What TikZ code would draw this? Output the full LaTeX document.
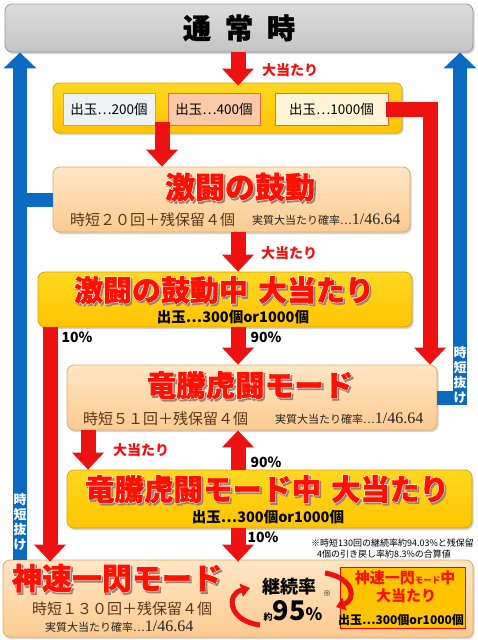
\documentclass[tikz,border=0pt]{standalone}
\usepackage{fontspec}
\setmainfont{Noto Sans CJK JP}
\newfontfamily\lserif{Liberation Serif}
\usetikzlibrary{arrows.meta,shadows}
\definecolor{arrred}{HTML}{EE1111}
\definecolor{titred}{HTML}{FF1100}
\definecolor{bluea}{HTML}{0B6BC2}
\definecolor{brownt}{HTML}{5C3518}
\definecolor{peachT}{HTML}{FFE6C4}
\definecolor{peachB}{HTML}{FCCB90}
\definecolor{peachD}{HTML}{E3A868}
\definecolor{yelT}{HTML}{FFD820}
\definecolor{yelB}{HTML}{FFC400}
\definecolor{yelD}{HTML}{D9A400}
\definecolor{grayT}{HTML}{DCDCDC}
\definecolor{grayB}{HTML}{C4C4C4}
\definecolor{o2f}{HTML}{EEF2F3}
\definecolor{o4f}{HTML}{F9C9A8}
\definecolor{o10f}{HTML}{FFF4D6}
\definecolor{obd}{HTML}{E86A4A}
\definecolor{shad}{HTML}{A08070}
\newcommand\fs[1]{\fontsize{#1}{#1}\selectfont}
\newcommand\glowtext[4]{%
  \node[font=#3, inner sep=0pt] (#1) at (#2) {%
    \rlap{\kern1.6pt\raisebox{-1.8pt}{\color{shad}\addfontfeature{FakeBold=5}#4}}%
    \rlap{\color{white}\addfontfeature{FakeBold=5}#4}%
    {\color{titred}\addfontfeature{FakeBold=1.2}#4}};}
\tikzset{
 box/.style={rounded corners=7pt, inner sep=0pt, drop shadow={opacity=.35,shadow xshift=1.5pt,shadow yshift=-2pt}},
 graybox/.style={box, top color=grayT, bottom color=grayB, draw=gray!80, line width=.8pt},
 peachbox/.style={box, top color=peachT, bottom color=peachB, draw=peachD, line width=.8pt},
 yelbox/.style={box, top color=yelT, bottom color=yelB, draw=yelD, line width=.8pt},
 outbox/.style={inner sep=0pt, line width=.8pt, font=\fs{13.5}},
 redarr/.style={draw=arrred, line width=15pt, -{Triangle[width=31pt,length=17pt]}},
 bluearr/.style={draw=bluea, line width=14pt, -{Triangle[width=32pt,length=16pt]}},
 bluestub/.style={draw=bluea, line width=14pt},
 curvarr/.style={draw=arrred, line width=5pt, -{Triangle[width=13pt,length=9pt]}},
 lbl/.style={font=\fs{14}\bfseries, text=arrred, inner sep=0pt},
 pct/.style={font=\fs{14}\bfseries, inner sep=0pt},
 sub/.style={font=\fs{15}, text=brownt, inner sep=0pt},
 prob/.style={inner sep=0pt, text=black!85},
 outline/.style={font=\fs{14.5}\bfseries, inner sep=0pt},
 vlabel/.style={font=\fontsize{13}{15}\selectfont\bfseries, text=white, align=center, inner sep=0pt},
}
\begin{document}
\begin{tikzpicture}[x=1pt,y=-1pt]
\useasboundingbox (0,0) rectangle (478,640);
% boxes
\node[graybox, minimum width=468pt, minimum height=48pt] (top) at (239,28) {};
\node[font=\fs{28}\bfseries, inner sep=0pt] (topt) at (239,28) {\addfontfeature{FakeBold=1.5}通\hspace{14pt}常\hspace{14pt}時};
\node[yelbox, rounded corners=6pt, minimum width=349pt, minimum height=50pt] (out) at (227.5,108) {};
\node[outbox, fill=o2f, draw=gray!70, minimum width=92pt, minimum height=32pt] (o200) at (109,109) {出玉…200個};
\node[outbox, fill=o4f, draw=obd, minimum width=92pt, minimum height=32pt] (o400) at (214,109) {出玉…400個};
\node[outbox, fill=o10f, draw=obd, minimum width=113pt, minimum height=32pt] (o1000) at (331.5,109) {出玉…1000個};
\node[peachbox, minimum width=357pt, minimum height=65pt] (geki) at (231.5,199.5) {};
\node[yelbox, minimum width=374pt, minimum height=55pt] (gekiA) at (225,299.5) {};
\node[peachbox, minimum width=370pt, minimum height=65pt] (ryu) at (252,397.5) {};
\node[yelbox, minimum width=405pt, minimum height=58pt] (ryuA) at (269.5,499) {};
\node[peachbox, minimum width=470pt, minimum height=77pt] (shin) at (238,598.5) {};
\node[fill=yelB, draw=red, line width=1pt, minimum width=125pt, minimum height=61pt, inner sep=0pt] (shinA) at (402.5,597.5) {};
% coordinates for arrow columns
\coordinate (xa) at (238,0);
\coordinate (xb) at (162,0);
\coordinate (xc) at (430,0);
\coordinate (xd) at (50,0);
\coordinate (xe) at (88,0);
\coordinate (xl) at (20,0);
\coordinate (xr) at (460,0);
% blue arrows
\draw[bluearr] (shin.north -| xl) -- (top.south -| xl);
\draw[bluestub] (geki.west) -- (geki.west -| xl);
\draw[bluearr] (ryu.east) -| (top.south -| xr);
\node[vlabel] (tl) at (20,522) {時\\短\\抜\\け};
\node[vlabel] (tr) at (460,375) {時\\短\\抜\\け};
% red arrows
\draw[redarr] (top.south -| xa) -- ([yshift=-3pt]out.north -| xa);
\draw[redarr] ([yshift=3pt]o200.south -| xb) -- (geki.north -| xb);
\draw[redarr] ([xshift=-2pt]o1000.east) -| (ryu.north -| xc);
\draw[redarr] (geki.south -| xa) -- (gekiA.north -| xa);
\draw[redarr] (gekiA.south -| xd) -- ([yshift=-2pt]shin.north -| xd);
\draw[redarr] (gekiA.south -| xa) -- (ryu.north -| xa);
\draw[redarr] (ryu.south -| xe) -- (ryuA.north -| xe);
\draw[redarr] (ryuA.north -| xa) -- (ryu.south -| xa);
\draw[redarr] (ryuA.south -| xa) -- ([yshift=-2pt]shin.north -| xa);
% arrow labels
\node[lbl] (l1) at (290,70) {大当たり};
\node[lbl] (l2) at (289,253) {大当たり};
\node[lbl] (l3) at (141,450) {大当たり};
\node[pct] (p1) at (77,337) {10\%};
\node[pct] (p2) at (266,337) {90\%};
\node[pct] (p3) at (266,462) {90\%};
\node[pct] (p4) at (263,537) {10\%};
% titles
\glowtext{gekit}{240,188}{\fs{30}\bfseries}{激闘の鼓動}
\glowtext{gekiAt}{224,291}{\fs{29}\bfseries}{激闘の鼓動中\hspace{10pt}大当たり}
\glowtext{ryut}{250,386}{\fs{29.5}\bfseries}{竜騰虎闘モード}
\glowtext{ryuAt}{267,490}{\fs{29.5}\bfseries}{竜騰虎闘モード中\hspace{10pt}大当たり}
\glowtext{shint}{117,579}{\fs{30}\bfseries}{神速一閃モード}
% sub texts
\node[sub, anchor=west] (gekis) at (70,220) {時短２０回＋残保留４個};
\node[prob, anchor=west] (gekip) at (252,220) {\fs{11}実質大当たり確率…\lserif\fs{16}1/46.64};
\node[outline] (gekiAo) at (233,317) {出玉…300個or1000個};
\node[sub, anchor=west] (ryus) at (83,419) {時短５１回＋残保留４個};
\node[prob, anchor=west] (ryup) at (275,419) {\fs{11}実質大当たり確率…\lserif\fs{16}1/46.64};
\node[outline] (ryuAo) at (268,517) {出玉…300個or1000個};
\node[sub, anchor=west] (shins) at (32,609) {時短１３０回＋残保留４個};
\node[prob, anchor=west] (shinp) at (45,627) {\fs{11}実質大当たり確率…\lserif\fs{16}1/46.64};
% note
\node[font=\fs{9}, inner sep=0pt] (n1) at (392.5,543) {※時短130回の継続率約94.03\%と残保留};
\node[font=\fs{9}, inner sep=0pt] (n2) at (384,554) {4個の引き戻し率約8.3\%の合算値};
% continuation
\node[font=\fs{18}\bfseries, inner sep=0pt] (keizoku) at (289,587) {継続率};
\node[font=\bfseries, inner sep=0pt, anchor=base] (p95) at (293,620) {\fs{9}約\fs{27}95\fs{17}\%};
\node[font=\fs{8}, inner sep=0pt] (kome) at (327,594) {※};
\node[font=\bfseries, text=titred, inner sep=0pt] (sa1) at (405,578) {\fs{15}神速一閃\fs{8.5}モード\fs{15}中};
\node[font=\fs{15}\bfseries, text=titred, inner sep=0pt] (sa2) at (406,596) {大当たり};
\node[font=\fs{12}\bfseries, inner sep=0pt] (sa3) at (401,620) {出玉…300個or1000個};
\draw[curvarr] (260,625) .. controls (228,621) and (226,594) .. (250,588);
\draw[curvarr] (325,573) .. controls (355,578) and (356,600) .. (336,607);
\end{tikzpicture}
\end{document}
